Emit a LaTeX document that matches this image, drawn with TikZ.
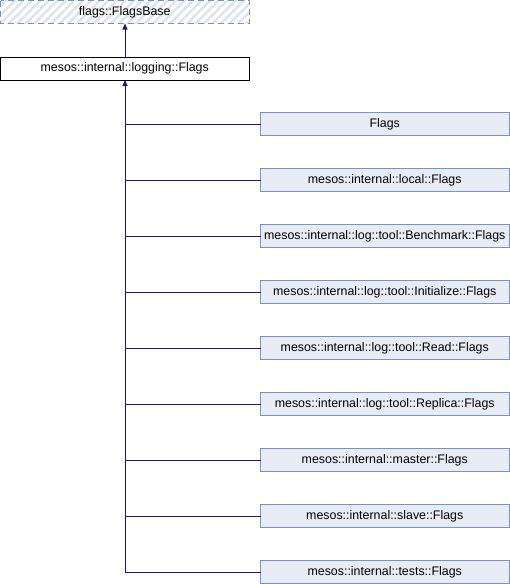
\documentclass[tikz,border=0pt]{standalone}
\usepackage{fontspec}
\setmainfont{Liberation Sans}
\usetikzlibrary{patterns.meta,arrows.meta}
\definecolor{edgeblue}{RGB}{25,25,140}
\definecolor{boxfill}{RGB}{232,236,245}
\definecolor{boxline}{RGB}{120,146,200}
\definecolor{hatch}{RGB}{220,227,241}
\begin{document}
\begin{tikzpicture}[x=1pt,y=-1pt,
  every node/.style={font=\fontsize{12.4}{14}\selectfont},
  classbox/.style={draw=boxline,fill=boxfill,line width=1pt},
  basebox/.style={draw=black,fill=white,line width=1pt},
  extbox/.style={draw=boxline,line width=1pt,dash pattern=on 6pt off 4pt,
    pattern={Lines[angle=45,distance=6pt,line width=2.5pt]},pattern color=hatch},
  inherit/.style={draw=edgeblue,line width=1pt},
  tip/.style={-{Triangle[width=5pt,length=6pt]}}]
\useasboundingbox (0,0) rectangle (510,584);

% external base class
\draw[extbox] (0.5,0.5) rectangle (249,23.5);
\node (fb) at (124.75,12) {flags::FlagsBase};
\coordinate (fbS) at (125,23.5);

% class itself
\draw[basebox] (0.5,57) rectangle (249,80);
\node (lf) at (124.75,68.5) {mesos::internal::logging::Flags};
\coordinate (lfN) at (125,57);
\coordinate (lfS) at (125,80);

\draw[inherit,tip] (lfN) -- (fbS);

% derived classes
\foreach \i/\t in {0/Flags,
                   1/mesos::internal::local::Flags,
                   2/mesos::internal::log::tool::Benchmark::Flags,
                   3/mesos::internal::log::tool::Initialize::Flags,
                   4/mesos::internal::log::tool::Read::Flags,
                   5/mesos::internal::log::tool::Replica::Flags,
                   6/mesos::internal::master::Flags,
                   7/mesos::internal::slave::Flags,
                   8/mesos::internal::tests::Flags}{
  \pgfmathsetmacro{\cy}{124+56*\i}
  \draw[classbox] (260.5,\cy-11.5) rectangle (509,\cy+11.5);
  \node (d\i) at (384.75,\cy) {\t};
  \coordinate (dW\i) at (260.5,\cy);
  \coordinate (tr\i) at (125,\cy);
  \draw[inherit] (tr\i) -- (dW\i);
}

\draw[inherit] (tr8) -- (125,84);
\draw[inherit,tip] (125,84) -- (lfS);
\end{tikzpicture}
\end{document}
